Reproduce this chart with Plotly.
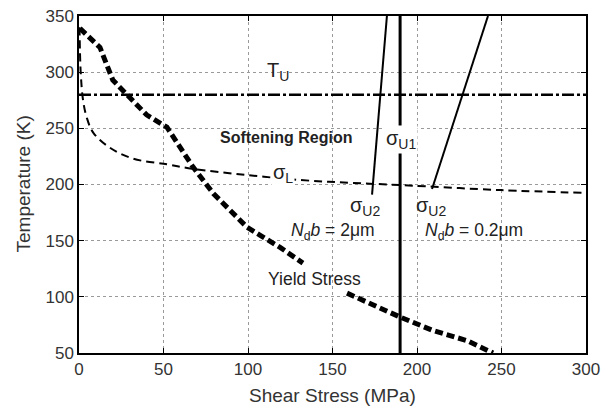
import plotly.graph_objects as go

# ---- data ----
yield_x = [0.5, 12.4, 20, 28.4, 40, 52, 60, 67.5, 79.5, 91, 99.4, 107, 119, 132.5, None,
           158.6, 190, 209.5, 229.6, 245]
yield_t = [339, 322, 293, 280, 262, 251, 233.5, 215.5, 192, 174.6, 162, 155, 144, 130, None,
           103.3, 82, 70, 61, 50]

sigL_x = [0.3, 1.0, 2.4, 4.5, 8.5, 18, 32, 52, 67, 99, 131, 160, 190, 250, 300]
sigL_t = [340, 300, 275, 260, 246, 233, 223, 218, 214, 208.5, 204, 201.5, 199.5, 195, 192.5]

tu_x = [0, 300]
tu_t = [280, 280]

sigU1_x = [190, 190]
sigU1_t = [50, 350]

sigU2a_x = [182.2, 173.4]   # N_d b = 2 um
sigU2a_t = [350, 191]
sigU2b_x = [242, 208.9]     # N_d b = 0.2 um
sigU2b_t = [350, 196]

x_ticks = [0, 50, 100, 150, 200, 250, 300]
y_ticks = [50, 100, 150, 200, 250, 300, 350]

FONT = "Liberation Sans, Arial, Helvetica, sans-serif"

fig = go.Figure()
fig.add_trace(go.Scatter(x=tu_x, y=tu_t, mode="lines",
                         line=dict(color="black", width=2.5, dash="12px,3px,3px,3px")))
fig.add_trace(go.Scatter(x=sigL_x, y=sigL_t, mode="lines", line_shape="spline",
                         line=dict(color="black", width=2, dash="8px,5px")))
fig.add_trace(go.Scatter(x=yield_x, y=yield_t, mode="lines", connectgaps=False,
                         line=dict(color="black", width=5, dash="8px,4px")))
fig.add_trace(go.Scatter(x=sigU1_x, y=sigU1_t, mode="lines",
                         line=dict(color="black", width=3)))
fig.add_trace(go.Scatter(x=sigU2a_x, y=sigU2a_t, mode="lines",
                         line=dict(color="black", width=2)))
fig.add_trace(go.Scatter(x=sigU2b_x, y=sigU2b_t, mode="lines",
                         line=dict(color="black", width=2)))

def ann(x, y, text, size=18, bg=None, bold=False):
    if bold:
        text = "<b>" + text + "</b>"
    d = dict(x=x, y=y, xref="x", yref="y", text=text, showarrow=False,
             font=dict(family=FONT, size=size, color="#222"))
    if bg:
        d.update(bgcolor=bg, borderpad=1)
    fig.add_annotation(**d)

ann(118, 301, "T<sub>U</sub>", 20)
ann(122.5, 242, "Softening Region", 16, bold=True)
ann(190.5, 240, "σ<sub>U1</sub>", 20, bg="white")
ann(120.7, 210, "σ<sub>L</sub>", 20, bg="white")
ann(169, 180, "σ<sub>U2</sub>", 20)
ann(208, 180, "σ<sub>U2</sub>", 20)
ann(150, 158.5, "<i>N</i><sub>d</sub><i>b</i> = 2μm", 17.5)
ann(234, 158.5, "<i>N</i><sub>d</sub><i>b</i> = 0.2μm", 17.5)
ann(139.6, 116, "Yield Stress", 17.5)

# axis titles
fig.add_annotation(xref="paper", yref="paper", x=(23 - 79) / 507, y=0.5, textangle=-90,
                   text="Temperature (K)", showarrow=False, xanchor="center", yanchor="middle",
                   font=dict(family=FONT, size=19, color="#333"))
fig.add_annotation(xref="paper", yref="paper", x=0.5, y=(353 - 395) / 337,
                   text="Shear Stress (MPa)", showarrow=False, xanchor="center", yanchor="middle",
                   font=dict(family=FONT, size=19, color="#333"))

axis_common = dict(showline=True, linecolor="black", linewidth=1.5, mirror="allticks",
                   ticks="inside", ticklen=5, tickcolor="black", automargin=False,
                   showgrid=True, gridcolor="#9a9a9a", gridwidth=1, griddash="dot",
                   zeroline=False, tickfont=dict(family=FONT, size=17, color="#333"))

fig.update_xaxes(range=[0, 300], tickvals=x_ticks, **axis_common)
fig.update_yaxes(range=[50, 350], tickvals=y_ticks, **axis_common)

fig.update_layout(width=606, height=408, showlegend=False,
                  margin=dict(l=79, r=20, t=16, b=55),
                  plot_bgcolor="white", paper_bgcolor="white")

fig.write_html("out.html")
